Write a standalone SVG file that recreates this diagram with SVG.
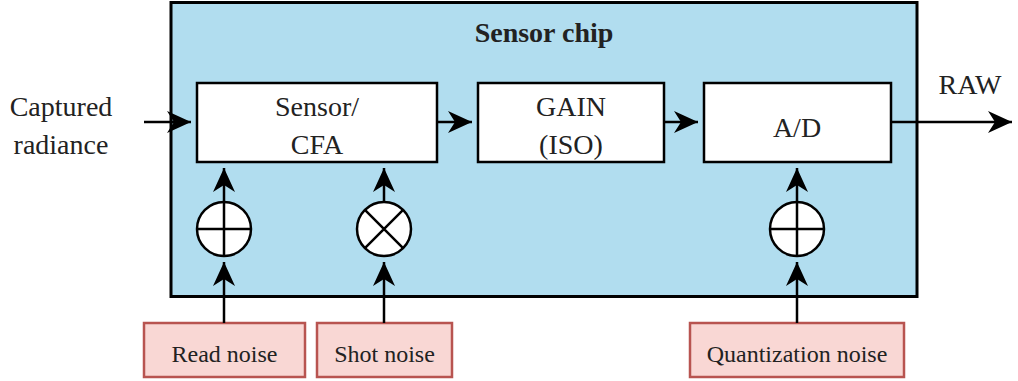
<svg xmlns="http://www.w3.org/2000/svg" width="1018" height="381" viewBox="0 0 1018 381">
<style>
.blk{fill:#fff;stroke:#000;stroke-width:2.5}
.noise{fill:#f9d7d4;stroke:#b85450;stroke-width:2.5}
.t{font-size:28px;fill:#222;text-anchor:middle}
.tn{font-size:24px;fill:#222;text-anchor:middle}
.ln{fill:none;stroke:#000;stroke-width:2.5}
.sum{fill:#fff;stroke:#000;stroke-width:2.5}
</style>
<defs>
<marker id="ah" markerWidth="26" markerHeight="26" viewBox="0 0 26 26" refX="24" refY="13" orient="auto" markerUnits="userSpaceOnUse">
<path d="M0,2 L24,13 L0,24 L7,13 Z" fill="#000"/>
</marker>
</defs>
<g font-family="'Liberation Serif', 'Times New Roman', 'DejaVu Serif', serif">
<g id="chip">
<rect x="171" y="2.5" width="746" height="294" fill="#b1ddef" stroke="#000" stroke-width="3"/>
<text class="t" x="544" y="42" font-weight="bold">Sensor chip</text>
</g>
<g id="input-label"><text class="t" x="61" y="116">Captured</text><text class="t" x="61" y="154">radiance</text></g>
<g id="raw-label"><text class="t" x="970" y="94">RAW</text></g>
<g id="sensor"><rect class="blk" x="197" y="83" width="240" height="79"/><text class="t" x="317" y="116">Sensor/</text><text class="t" x="317" y="154">CFA</text></g>
<g id="gain"><rect class="blk" x="478" y="83" width="186" height="79"/><text class="t" x="571" y="116">GAIN</text><text class="t" x="571" y="154">(ISO)</text></g>
<g id="ad"><rect class="blk" x="704" y="83" width="187" height="79"/><text class="t" x="797" y="137">A/D</text></g>
<g id="sum-read"><circle class="sum" cx="224" cy="229" r="27"/><path class="ln" d="M197,229 H251 M224,202 V256"/></g>
<g id="mul-shot"><circle class="sum" cx="384" cy="229" r="27"/><path class="ln" d="M364.9,209.9 L403.1,248.1 M403.1,209.9 L364.9,248.1"/></g>
<g id="sum-quant"><circle class="sum" cx="797" cy="229" r="27"/><path class="ln" d="M770,229 H824 M797,202 V256"/></g>
<g id="read-noise"><rect class="noise" x="144" y="323" width="161" height="54"/><text class="tn" x="224.5" y="362">Read noise</text></g>
<g id="shot-noise"><rect class="noise" x="317" y="323" width="135" height="54"/><text class="tn" x="384.5" y="362">Shot noise</text></g>
<g id="quant-noise"><rect class="noise" x="690" y="323" width="214" height="54"/><text class="tn" x="797" y="362">Quantization noise</text></g>
</g>
<g id="connectors">
<path class="ln" d="M144,122 H191" marker-end="url(#ah)"/>
<path class="ln" d="M437,122 H472" marker-end="url(#ah)"/>
<path class="ln" d="M664,122 H698" marker-end="url(#ah)"/>
<path class="ln" d="M891,122 H1012" marker-end="url(#ah)"/>
<path class="ln" d="M224,323 V262" marker-end="url(#ah)"/>
<path class="ln" d="M224,202 V168" marker-end="url(#ah)"/>
<path class="ln" d="M384,323 V262" marker-end="url(#ah)"/>
<path class="ln" d="M384,202 V168" marker-end="url(#ah)"/>
<path class="ln" d="M797,323 V262" marker-end="url(#ah)"/>
<path class="ln" d="M797,202 V168" marker-end="url(#ah)"/>
</g>
</svg>
